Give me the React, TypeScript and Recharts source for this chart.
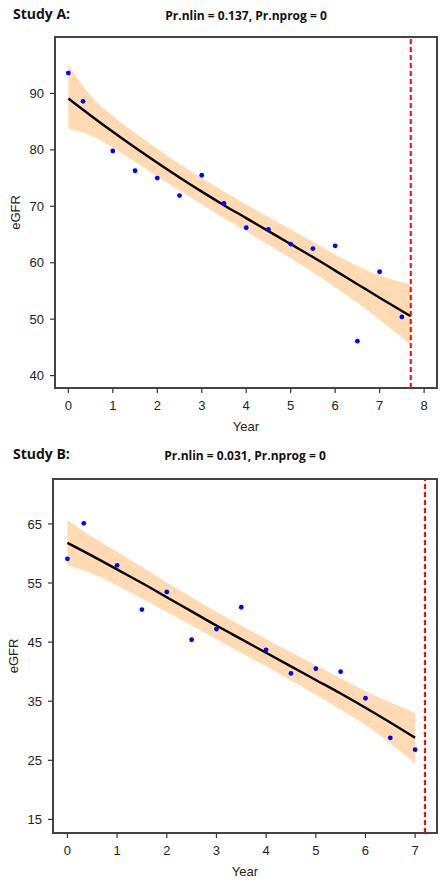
import {
  Area,
  ComposedChart,
  Line,
  ReferenceArea,
  ReferenceLine,
  Scatter,
  XAxis,
  YAxis,
} from "recharts";

// Study A: observed points
const obsYearsA = [0, 0.33, 1, 1.5, 2, 2.5, 3, 3.5, 4, 4.5, 5, 5.5, 6, 6.5, 7, 7.5];
const obsEgfrA = [93.6, 88.6, 79.8, 76.3, 75.0, 71.9, 75.5, 70.5, 66.2, 65.9, 63.3, 62.5, 63.0, 46.1, 58.4, 50.4];

// Study A: fitted curve and band
const fitYearsA = [0, 0.5, 1, 1.5, 2, 2.5, 3, 3.5, 4, 4.5, 5, 5.5, 6, 6.5, 7, 7.7];
const fitA = [89.1, 86.1, 83.2, 80.4, 77.7, 75.1, 72.6, 70.2, 67.9, 65.6, 63.3, 61.0, 58.6, 56.2, 53.8, 50.5];
const upperA = [95.0, 89.6, 86.0, 83.0, 80.2, 77.5, 75.0, 72.6, 70.3, 68.1, 65.9, 63.7, 61.4, 59.4, 57.7, 56.2];
const lowerA = [83.8, 82.6, 80.4, 77.9, 75.3, 72.8, 70.3, 67.9, 65.6, 63.2, 60.8, 58.3, 55.7, 52.9, 49.9, 45.5];

// Study B: observed points
const obsYearsB = [0, 0.33, 1, 1.5, 2, 2.5, 3, 3.5, 4, 4.5, 5, 5.5, 6, 6.5, 7];
const obsEgfrB = [59.1, 65.1, 58.0, 50.5, 53.5, 45.4, 47.2, 50.9, 43.7, 39.7, 40.5, 40.0, 35.5, 28.8, 26.8];

// Study B: fitted line and band
const fitYearsB = [0, 0.5, 1, 1.5, 2, 2.5, 3, 3.5, 4, 4.5, 5, 5.5, 6, 6.5, 7];
const fitB = [61.8, 59.6, 57.3, 55.0, 52.6, 50.2, 47.8, 45.5, 43.2, 40.9, 38.6, 36.3, 33.9, 31.4, 28.8];
const upperB = [65.6, 62.8, 60.3, 57.7, 55.1, 52.6, 50.1, 47.8, 45.5, 43.3, 41.1, 38.9, 36.7, 34.8, 33.0];
const lowerB = [58.0, 56.6, 54.6, 52.4, 50.1, 47.8, 45.5, 43.2, 40.9, 38.5, 36.1, 33.6, 31.0, 27.9, 24.4];

const xTicksA = [0, 1, 2, 3, 4, 5, 6, 7, 8];
const yTicksA = [40, 50, 60, 70, 80, 90];
const xTicksB = [0, 1, 2, 3, 4, 5, 6, 7];
const yTicksB = [15, 25, 35, 45, 55, 65];

const cutoffA = 7.7;
const cutoffB = 7.2;

const tickStyle = { fontSize: 13, fill: "#222", fontFamily: "Liberation Sans, Arial, sans-serif" };

function Dot(props: any) {
  return <circle cx={props.cx} cy={props.cy} r={2.4} fill="#0000ff" />;
}

function StudyPlot({
  top,
  height,
  marginTop,
  marginBottom,
  marginLeft,
  marginRight,
  study,
  stats,
  obsYears,
  obsEgfr,
  fitYears,
  fit,
  upper,
  lower,
  xDomain,
  yDomain,
  xTicks,
  yTicks,
  cutoff,
}: any) {
  const points = obsYears.map((x: number, i: number) => ({ x, y: obsEgfr[i] }));
  const rows = fitYears.map((x: number, i: number) => ({
    x,
    fit: fit[i],
    band: [lower[i], upper[i]],
  }));
  const plotLeft = marginLeft + 40;
  const plotRight = 448 - marginRight;

  return (
    <div style={{ position: "absolute", left: 0, top, width: 448, height }}>
      <div
        style={{
          position: "absolute",
          left: 13,
          top: 7,
          fontFamily: "Open Sans",
          fontWeight: 700,
          fontSize: 14,
          lineHeight: "14px",
          color: "#111",
        }}
      >
        {study}
      </div>
      <div
        style={{
          position: "absolute",
          left: plotLeft,
          width: plotRight - plotLeft,
          top: 10,
          textAlign: "center",
          fontFamily: "Open Sans",
          fontWeight: 700,
          fontSize: 12,
          lineHeight: "12px",
          color: "#111",
        }}
      >
        {stats}
      </div>
      <ComposedChart
        width={448}
        height={height}
        data={rows}
        margin={{ top: marginTop, right: marginRight, bottom: marginBottom, left: marginLeft }}
      >
        <XAxis
          type="number"
          dataKey="x"
          domain={xDomain}
          ticks={xTicks}
          allowDataOverflow
          axisLine={false}
          tickLine={{ stroke: "#333", strokeWidth: 1.2 }}
          tickSize={5}
          tickMargin={8}
          height={48}
          tick={tickStyle}
          label={{
            value: "Year",
            position: "insideBottom",
            offset: 5,
            style: { fontSize: 13, fill: "#222", fontFamily: "Liberation Sans, Arial, sans-serif" },
          }}
        />
        <YAxis
          type="number"
          domain={yDomain}
          ticks={yTicks}
          allowDataOverflow
          axisLine={false}
          tickLine={{ stroke: "#333", strokeWidth: 1.2 }}
          tickSize={5}
          tickMargin={6}
          width={40}
          tick={tickStyle}
          label={{
            value: "eGFR",
            angle: -90,
            position: "insideLeft",
            offset: 0,
            style: {
              textAnchor: "middle",
              fontSize: 13,
              fill: "#222",
              fontFamily: "Liberation Sans, Arial, sans-serif",
            },
          }}
        />
        <Area
          dataKey="band"
          type="monotone"
          fill="#ffdab3"
          fillOpacity={1}
          stroke="none"
          isAnimationActive={false}
        />
        <Line
          dataKey="fit"
          type="monotone"
          stroke="#000"
          strokeWidth={2.4}
          dot={false}
          isAnimationActive={false}
        />
        <Scatter data={points} dataKey="y" shape={<Dot />} isAnimationActive={false} />
        <ReferenceLine
          x={cutoff}
          stroke="#ff0000"
          strokeWidth={2}
          strokeDasharray="5 3"
        />
        <ReferenceArea
          x1={xDomain[0]}
          x2={xDomain[1]}
          y1={yDomain[0]}
          y2={yDomain[1]}
          fill="none"
          stroke="#444"
          strokeWidth={2}
        />
      </ComposedChart>
    </div>
  );
}

export default function App() {
  return (
    <div
      style={{
        position: "absolute",
        left: 0,
        top: 0,
        width: 448,
        height: 885,
        background: "#fff",
      }}
    >
      <StudyPlot
        top={0}
        height={440}
        marginTop={37}
        marginBottom={4}
        marginLeft={15}
        marginRight={11}
        study="Study A:"
        stats="Pr.nlin = 0.137, Pr.nprog = 0"
        obsYears={obsYearsA}
        obsEgfr={obsEgfrA}
        fitYears={fitYearsA}
        fit={fitA}
        upper={upperA}
        lower={lowerA}
        xDomain={[-0.3, 8.29]}
        yDomain={[37.8, 100]}
        xTicks={xTicksA}
        yTicks={yTicksA}
        cutoff={cutoffA}
      />
      <StudyPlot
        top={440}
        height={445}
        marginTop={39}
        marginBottom={4}
        marginLeft={13}
        marginRight={11}
        study="Study B:"
        stats="Pr.nlin = 0.031, Pr.nprog = 0"
        obsYears={obsYearsB}
        obsEgfr={obsEgfrB}
        fitYears={fitYearsB}
        fit={fitB}
        upper={upperB}
        lower={lowerB}
        xDomain={[-0.29, 7.44]}
        yDomain={[12.7, 72.6]}
        xTicks={xTicksB}
        yTicks={yTicksB}
        cutoff={cutoffB}
      />
    </div>
  );
}
